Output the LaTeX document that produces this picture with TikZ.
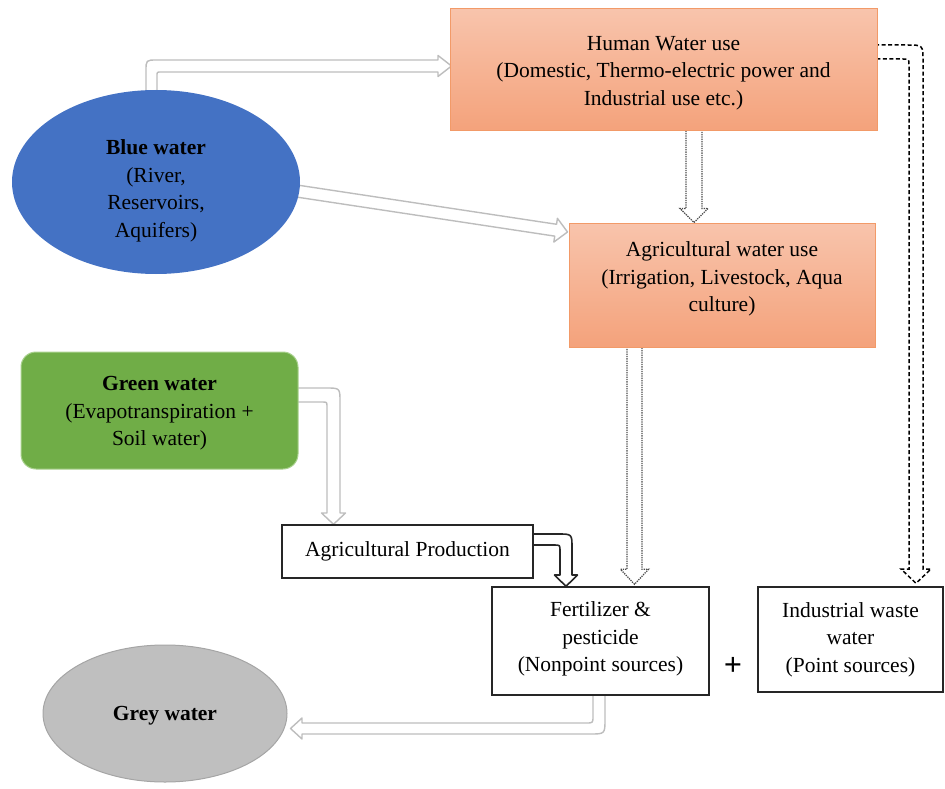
\documentclass[tikz,border=0pt]{standalone}
\usepackage{fontspec}
\setmainfont{Liberation Serif}
\usetikzlibrary{calc,shapes.geometric,backgrounds}
\definecolor{bluew}{HTML}{4472C4}
\definecolor{greenw}{HTML}{70AD47}
\definecolor{greenb}{HTML}{A9D18E}
\definecolor{greyw}{HTML}{BFBFBF}
\definecolor{greyb}{HTML}{A5A5A5}
\definecolor{orT}{HTML}{F8C4AC}
\definecolor{orB}{HTML}{F4A27B}
\definecolor{orD}{HTML}{F29A68}
\definecolor{arrg}{HTML}{BDBDBD}
\newcommand\hollowline[6]{%
  \coordinate (hb) at ($(#3)!#6pt!(#2)$);
  \draw[#1] ($(#2)!#4pt!90:(#3)$) -- ($(hb)!#4pt!90:(#3)$) -- ($(hb)!#5pt!90:(#3)$) -- (#3)
    -- ($(hb)!#5pt!-90:(#3)$) -- ($(hb)!#4pt!-90:(#3)$) -- ($(#2)!#4pt!-90:(#3)$) -- cycle;}
\begin{document}
\begin{tikzpicture}[x=1pt,y=-1pt,
  font=\fontsize{21.5}{27.5}\selectfont,
  txt/.style={align=center, inner sep=0pt, text=black},
  obox/.style={rectangle, draw=orD, line width=1pt, top color=orT, bottom color=orB, txt},
  wbox/.style={rectangle, draw=black!85, line width=1.4pt, fill=white, txt},
  harrow/.style={draw=arrg, line width=1.4pt, fill=white, line join=round},
  dotarrow/.style={draw=black!70, line width=1.3pt, dash pattern=on 1.3pt off 1pt, fill=white},
  dasharrow/.style={draw=black, line width=1.5pt, dash pattern=on 4pt off 2.5pt, fill=white},
  blkarrow/.style={draw=black!85, line width=1.6pt, fill=white, line join=round}]
\useasboundingbox (0,0) rectangle (945,789);

% shapes
\node[obox, minimum width=427pt, minimum height=122pt] (human) at (663.5,70) {};
\node[ellipse, fill=bluew, minimum width=288pt, minimum height=184pt, txt] (blue) at (156,182) {};
\node[obox, minimum width=306pt, minimum height=124pt] (agri) at (722,285) {};
\node[rectangle, rounded corners=15pt, fill=greenw, draw=greenb, line width=1pt,
  minimum width=277pt, minimum height=117pt, txt] (green) at (159.5,410.5) {};
\node[wbox, minimum width=251pt, minimum height=53pt] (prod) at (407.5,551.5)
  {Agricultural Production};
\node[wbox, minimum width=217pt, minimum height=108pt] (fert) at (600.5,641) {};
\node[wbox, minimum width=185pt, minimum height=105pt] (ind) at (850.5,639.5)
  {Industrial waste\\water\\(Point sources)};
\node[txt, font=\fontsize{32}{32}\selectfont\bfseries] (plus) at (733,666) {+};
\node[ellipse, fill=greyw, draw=greyb, line width=1pt, minimum width=244pt,
  minimum height=137pt, txt] (grey) at (165,713.5) {};

% texts
\node[txt] (human-t) at ($(human.center)+(0,3)$)
  {Human Water use\\(Domestic, Thermo-electric power and\\Industrial use etc.)};
\node[txt] (blue-t) at ($(blue.center)+(0,9)$)
  {\textbf{Blue water}\\(River,\\Reservoirs,\\Aquifers)};
\node[txt] (agri-t) at ($(agri.center)+(0,-6)$)
  {Agricultural water use\\(Irrigation, Livestock, Aqua\\culture)};
\node[txt] (green-t) at ($(green.center)+(0,3)$)
  {\textbf{Green water}\\(Evapotranspiration +\\Soil water)};
\node[txt] (fert-t) at ($(fert.center)+(0,-2)$)
  {Fertilizer \&\\pesticide\\(Nonpoint sources)};
\node[txt] (grey-t) at ($(grey.center)+(0,2)$) {\textbf{Grey water}};

% arrows
\begin{scope}[on background layer]
  % blue -> human
  \coordinate (a1e) at ($(human.west)+(2,-4)$);
  \draw[harrow] (146,96) -- (146,71) .. controls (146,60) .. (157,60) -- (438,60) -- (438,55.5)
    -- (a1e) -- (438,76.5) -- (438,72) -- (161,72) .. controls (157,72) .. (157,76) -- (157,96) -- cycle;
  % blue -> agri
  \coordinate (a2s) at (290,190);
  \coordinate (a2e) at ($(agri.west)+(-1,-53)$);
  \hollowline{harrow}{a2s}{a2e}{6}{12}{12}
  % human -> agri
  \coordinate (a3s) at ($(human.south)+(30.5,-2)$);
  \coordinate (a3e) at ($(agri.north)+(-28,0)$);
  \hollowline{dotarrow}{a3s}{a3e}{8}{14}{14}
  % agri -> fert
  \coordinate (a7s) at ($(agri.south)+(-87.5,-2)$);
  \coordinate (a7e) at ($(fert.north)+(34,-2)$);
  \hollowline{dotarrow}{a7s}{a7e}{7.5}{14}{15}
  % human -> industrial
  \coordinate (a4e) at ($(ind.north)+(65.5,-3)$);
  \draw[dasharrow] (875,45) -- (907,45) .. controls (923,45) .. (923,61) -- (923,569) -- (931,569)
    -- (a4e) -- (901,569) -- (909,569) -- (909,65) .. controls (909,59) .. (903,59) -- (875,59) -- cycle;
  % green -> production
  \coordinate (a5e) at ($(prod.north)+(-74,0)$);
  \draw[harrow] (295,388) -- (326,388) .. controls (340,388) .. (340,402) -- (340,513) -- (345.5,513)
    -- (a5e) -- (321.5,513) -- (327,513) -- (327,407) .. controls (327,402) .. (322,402) -- (295,402) -- cycle;
  % production -> fert
  \coordinate (a6e) at ($(fert.north)+(-34.5,0)$);
  \draw[blkarrow] (533,534) -- (558,534) .. controls (572,534) .. (572,548) -- (572,575) -- (577.5,575)
    -- (a6e) -- (554.5,575) -- (560,575) -- (560,551) .. controls (560,545) .. (554,545) -- (533,545) -- cycle;
  % fert -> grey
  \coordinate (a8e) at ($(grey.east)+(3,15)$);
  \draw[harrow] (593,693) -- (593,716) .. controls (593,723) .. (586,723) -- (302,723) -- (302,718)
    -- (a8e) -- (302,739) -- (302,734) -- (590,734) .. controls (605,734) .. (605,719) -- (605,693) -- cycle;
\end{scope}
\end{tikzpicture}
\end{document}
